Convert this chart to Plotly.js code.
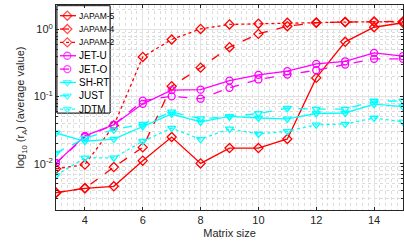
<!DOCTYPE html>
<html><head><meta charset="utf-8">
<script src="https://cdn.plot.ly/plotly-3.0.1.min.js"></script>
<style>html,body{margin:0;padding:0;background:#fff;}#chart{width:404px;height:249px;}</style>
</head><body><div id="chart"></div>
<script>
const matrixSize = [3,4,5,6,7,8,9,10,11,12,13,14,15];
const seriesNames = ["JAPAM-5","JAPAM-4","JAPAM-2","JET-U","JET-O","SH-RT","JUST","JDTM"];
const japam5 = [0.0037,0.0043,0.0046,0.0111,0.025,0.0101,0.0171,0.0171,0.0234,0.19,0.655,1.08,1.26];
const japam4 = [0.0037,0.0043,0.0089,0.0175,0.143,0.27,0.545,0.86,1.12,1.26,1.29,1.32,1.32];
const japam2 = [0.0084,0.0097,0.037,0.39,0.71,1.02,1.19,1.22,1.26,1.27,1.29,1.3,1.3];
const jetU = [0.0102,0.026,0.038,0.078,0.125,0.127,0.173,0.211,0.239,0.308,0.336,0.449,0.40];
const jetO = [0.0102,0.025,0.038,0.087,0.101,0.093,0.135,0.18,0.213,0.247,0.30,0.365,0.365];
const shRT = [0.0287,0.0216,0.0233,0.036,0.055,0.042,0.0508,0.048,0.0464,0.056,0.057,0.077,0.071];
const just = [0.0144,0.024,0.032,0.039,0.059,0.047,0.050,0.056,0.067,0.065,0.065,0.086,0.086];
const jdtm = [0.0067,0.0122,0.0122,0.0216,0.034,0.0231,0.033,0.0277,0.0304,0.038,0.039,0.048,0.042];
const yTickVals = [0.01,0.1,1];
const yTickText = ["10<sup>-2</sup>","10<sup>-1</sup>","10<sup>0</sup>"];

const RED="#ff0000", MAG="#ff00ff", CYA="#00ffff";
const styles = [
  [RED,"solid","diamond-open",8.5],[RED,"dash","diamond-open",8.5],[RED,"dot","diamond-open",8.5],
  [MAG,"solid","circle-open",10],[MAG,"dash","circle-open",10],
  [CYA,"solid","triangle-down-open",10],[CYA,"dash","triangle-down-open",10],[CYA,"dot","triangle-down-open",10]
];
const series = [japam5,japam4,japam2,jetU,jetO,shRT,just,jdtm];

const W = 404, H = 249, M = {l:56, r:1, t:5, b:39};
const PW = W - M.l - M.r, PH = H - M.t - M.b;   // plot area in px

const data = [];
const annotations = [];
series.forEach((y,i)=>{
  const [c,d,s] = styles[i];
  data.push({x: matrixSize, y: y, type:"scatter", mode:"lines+markers", name: seriesNames[i],
    showlegend:false, hoverinfo:"skip",
    line:{color:c, width:1.3, dash:d},
    marker:{symbol:s, size:7, color:c, line:{color:c, width:1.3}}});
});
// custom legend on an overlaid pixel-space axis pair (x2/y2)
const box = {x0:1, x1:54, y0:0.7, y1:108};
const legTop = 10.7, legStep = 13.35;
data.push({x:[box.x0,box.x1,box.x1,box.x0,box.x0], y:[box.y0,box.y0,box.y1,box.y1,box.y0],
  xaxis:"x2", yaxis:"y2", type:"scatter", mode:"lines", fill:"toself", fillcolor:"#ffffff",
  line:{color:"#262626", width:1}, showlegend:false, hoverinfo:"skip"});
series.forEach((y,i)=>{
  const [c,d,s,fs] = styles[i];
  const ly = legTop + legStep*i;
  data.push({x:[4,11.3,20], y:[ly,ly,ly], xaxis:"x2", yaxis:"y2", type:"scatter",
    mode:"lines+markers", showlegend:false, hoverinfo:"skip", cliponaxis:false,
    line:{color:c, width:1.3, dash:d},
    marker:{symbol:s, size:[0,7,0], color:c, line:{color:c, width:1.3}}});
  annotations.push({xref:"x2", yref:"y2", x:21, y:ly, text:seriesNames[i], showarrow:false,
    xanchor:"left", yanchor:"middle", font:{size:fs, color:"#000", family:"Liberation Sans, Arial, sans-serif"}});
});

const layout = {
  width:W, height:H, margin:M,
  paper_bgcolor:"#fff", plot_bgcolor:"#fff",
  font:{family:"Liberation Sans, Arial, sans-serif", size:11, color:"#262626"},
  showlegend:false,
  annotations: annotations,
  shapes:[{type:"rect", xref:"x2", yref:"y2", x0:box.x0, x1:box.x1, y0:box.y0, y1:box.y1,
    fillcolor:"#ffffff", line:{color:"#262626", width:1}, layer:"below"}],
  xaxis:{range:[3,15], tick0:0, dtick:2, ticks:"inside", ticklen:3, tickcolor:"#262626",
    showline:true, linecolor:"#262626", linewidth:1, mirror:"ticks",
    showgrid:true, gridcolor:"#e3e3e3", gridwidth:1, zeroline:false,
    minor:{dtick:0.2, showgrid:true, gridcolor:"#dcdcdc", griddash:"dot", gridwidth:1},
    title:{text:"Matrix size", font:{size:11}, standoff:4},
    tickfont:{size:11}},
  yaxis:{type:"log", range:[-2.69, 0.365], tickvals:yTickVals, ticktext:yTickText,
    ticks:"inside", ticklen:3, tickcolor:"#262626",
    showline:true, linecolor:"#262626", linewidth:1, mirror:"ticks",
    showgrid:true, gridcolor:"#e3e3e3", gridwidth:1, zeroline:false,
    minor:{dtick:"D1", showgrid:true, gridcolor:"#dcdcdc", griddash:"dot", ticks:"inside", ticklen:2, tickcolor:"#262626"},
    title:{text:"log<sub>10</sub> (r<sub>A</sub>) (average value)", font:{size:11}, standoff:6},
    tickfont:{size:11}},
  xaxis2:{overlaying:"x", range:[0,PW], visible:false, fixedrange:true, showgrid:false},
  yaxis2:{overlaying:"y", range:[PH,0], visible:false, fixedrange:true, showgrid:false}
};
Plotly.newPlot("chart", data, layout, {displayModeBar:false, staticPlot:true});
</script></body></html>
